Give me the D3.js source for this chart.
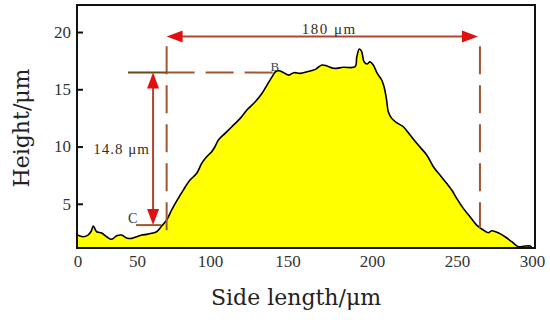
<!DOCTYPE html>
<html>
<head>
<meta charset="utf-8">
<script src="https://cdn.jsdelivr.net/npm/d3@7"></script>
<style>
  html, body { margin: 0; padding: 0; background: #fff; }
  svg { display: block; }
</style>
</head>
<body>
<div id="chart"></div>
<script>
// surface profile
const sideLength = [0, 4.6, 8.8, 11.5, 13.3, 16.1, 20.3, 24.5, 28.7, 32.9, 37.1, 41.3, 45.5, 49.7,
  53.2, 56.6, 60.0, 63.4, 66.9, 70.3, 73.7, 77.2, 81.7, 86.3, 90.9, 94.3, 97.7, 101.1, 103.2,
  105.4, 109.7, 114.1, 119.5, 123.8, 129.2, 133.6, 136.8, 140.1, 142.2, 144.4, 147.6, 150.8,
  153.7, 157.6, 161.6, 166.5, 170.4, 173.4, 177.2, 183.1, 190.0, 191.0, 192.5, 193.9, 195.3,
  197.2, 198.8, 200.8, 203.1, 205.7, 207.1, 208.6, 209.6, 211.6, 214.5, 218.4, 222.4, 227.2,
  232.2, 236.1, 240.0, 243.9, 246.9, 249.8, 254.2, 258.7, 263.1, 267.5, 270.9, 273.1, 277.5,
  282.0, 286.5, 290.9, 295.3, 298.7, 300];
const height = [2.27, 2.12, 2.27, 2.6, 3.06, 2.56, 2.45, 2.12, 1.90, 2.20, 2.27, 2.02, 1.98, 2.12,
  2.27, 2.33, 2.42, 2.56, 3.06, 3.58, 4.45, 5.25, 6.2, 7.07, 7.66, 8.53, 9.11, 9.55, 9.98,
  10.57, 11.15, 11.73, 12.46, 13.19, 13.91, 14.65, 15.37, 16.1, 16.53, 16.62, 16.45, 16.24,
  16.45, 16.39, 16.53, 16.74, 17.12, 17.03, 16.83, 16.92, 16.97, 17.84, 18.52, 18.28, 17.41,
  17.21, 17.41, 17.1, 16.39, 15.81, 15.22, 14.06, 13.04, 12.46, 12.08, 11.73, 11.0, 10.13,
  9.26, 8.24, 7.51, 6.79, 6.2, 5.48, 4.6, 3.87, 3.14, 2.71, 2.47, 2.65, 2.47,
  2.12, 1.69, 1.25, 1.31, 1.31, 1.14];

const xTicks = [0, 50, 100, 150, 200, 250, 300];
const yTicks = [5, 10, 15, 20];

// annotation values (data units)
const widthStart = 70.3, widthEnd = 265.3, widthLevel = 19.6;   // 180 μm
const pointB = [142.2, 16.46];
const pointC = [61, 3.14];

const W = 550, H = 320;
const frame = { left: 77, right: 535, top: 5, bottom: 248 };

const svg = d3.select("#chart").append("svg")
  .attr("width", W).attr("height", H);

// the x labels in the figure are not evenly spaced, so the scale follows them
const x = d3.scaleLinear()
  .domain(xTicks)
  .range([77.5, 137, 210, 287.5, 372, 457, 532]);
const y = d3.scaleLinear()
  .domain([1.14, 22.36])
  .range([frame.bottom, frame.top]);

const pts = sideLength.map((d, i) => [d, height[i]]);
const curve = d3.curveCatmullRom.alpha(0.5);

// filled profile
svg.append("path")
  .datum(pts)
  .attr("fill", "#ffff00")
  .attr("d", d3.area().curve(curve).x(d => x(d[0])).y0(frame.bottom).y1(d => y(d[1])));
svg.append("path")
  .datum(pts)
  .attr("fill", "none")
  .attr("stroke", "#000")
  .attr("stroke-width", 1.6)
  .attr("d", d3.line().curve(curve).x(d => x(d[0])).y(d => y(d[1])));

// frame
svg.append("rect")
  .attr("x", frame.left).attr("y", frame.top)
  .attr("width", frame.right - frame.left).attr("height", frame.bottom - frame.top)
  .attr("fill", "none").attr("stroke", "#111").attr("stroke-width", 2);

// y axis ticks (inward) + labels
const yAxis = svg.append("g")
  .attr("transform", `translate(${frame.left},0)`)
  .call(d3.axisLeft(y).tickValues(yTicks).tickSize(-6).tickPadding(6));
yAxis.select(".domain").remove();
yAxis.selectAll("line").attr("stroke", "#111").attr("stroke-width", 2);
yAxis.selectAll("text")
  .attr("font-family", "'Liberation Serif', serif")
  .attr("font-size", 17).attr("fill", "#333");

// x axis labels only
const xAxis = svg.append("g")
  .attr("transform", `translate(0,${frame.bottom})`)
  .call(d3.axisBottom(x).tickValues(xTicks).tickSize(0).tickPadding(7));
xAxis.select(".domain").remove();
xAxis.selectAll("text")
  .attr("font-family", "'Liberation Serif', serif")
  .attr("font-size", 17).attr("fill", "#333");

// axis titles
svg.append("text")
  .attr("x", 296).attr("y", 305)
  .attr("text-anchor", "middle")
  .attr("font-family", "'DejaVu Serif', serif")
  .attr("font-size", 22).attr("fill", "#222")
  .text("Side length/μm");
svg.append("text")
  .attr("transform", "translate(29,128) rotate(-90)")
  .attr("text-anchor", "middle")
  .attr("font-family", "'DejaVu Serif', serif")
  .attr("font-size", 22).attr("fill", "#222")
  .text("Height/μm");

// ---- annotations ----
const brown = "#a0562e", shaft = "#b04632", red = "#e01010";
const ann = svg.append("g");

function arrowHead(tx, ty, dx, dy) {
  // tip at (tx,ty), pointing along (dx,dy)
  const L = 16, w = 6;
  const bx = tx - dx * L, by = ty - dy * L;
  ann.append("path")
    .attr("d", `M${tx},${ty}L${bx - dy * w},${by + dx * w}L${bx + dy * w},${by - dx * w}Z`)
    .attr("fill", red);
}

// vertical dashed guides
[[widthStart, 2.27], [widthEnd, 2.88]].forEach(([xv, yb]) => {
  ann.append("line")
    .attr("x1", x(xv)).attr("x2", x(xv))
    .attr("y1", y(18.75)).attr("y2", y(yb))
    .attr("stroke", brown).attr("stroke-width", 2)
    .attr("stroke-dasharray", "28,11");
});

// horizontal level at B
ann.append("line")
  .attr("x1", x(42.4)).attr("x2", x(widthStart))
  .attr("y1", y(pointB[1])).attr("y2", y(pointB[1]))
  .attr("stroke", "#6b4a1e").attr("stroke-width", 2);
ann.append("line")
  .attr("x1", x(widthStart)).attr("x2", x(pointB[0]))
  .attr("y1", y(pointB[1])).attr("y2", y(pointB[1]))
  .attr("stroke", brown).attr("stroke-width", 2)
  .attr("stroke-dasharray", "28,11");

// level at C
ann.append("line")
  .attr("x1", x(49.2)).attr("x2", x(66.6))
  .attr("y1", y(pointC[1])).attr("y2", y(pointC[1]))
  .attr("stroke", brown).attr("stroke-width", 2);

// 180 μm arrow
ann.append("line")
  .attr("x1", x(widthStart) + 10).attr("x2", x(widthEnd) - 10)
  .attr("y1", y(widthLevel)).attr("y2", y(widthLevel))
  .attr("stroke", shaft).attr("stroke-width", 2);
arrowHead(x(widthStart), y(widthLevel), -1, 0);
arrowHead(x(widthEnd) - 2, y(widthLevel), 1, 0);

// 14.8 μm arrow
ann.append("line")
  .attr("x1", x(pointC[0])).attr("x2", x(pointC[0]))
  .attr("y1", y(pointB[1]) + 10).attr("y2", y(pointC[1]) - 10)
  .attr("stroke", shaft).attr("stroke-width", 2);
arrowHead(x(pointC[0]), y(pointB[1]), 0, -1);
arrowHead(x(pointC[0]), y(pointC[1]), 0, 1);

// labels
const annFont = "'Liberation Serif', serif";
ann.append("text")
  .attr("x", (x(widthStart) + x(widthEnd)) / 2 + 6).attr("y", y(widthLevel) - 3)
  .attr("text-anchor", "middle")
  .attr("font-family", annFont).attr("font-size", 15).attr("fill", "#3a2a22")
  .attr("letter-spacing", 1.5)
  .text("180 μm");
ann.append("text")
  .attr("x", x(pointC[0]) - 3).attr("y", y(10.0) + 7)
  .attr("text-anchor", "end")
  .attr("font-family", annFont).attr("font-size", 15).attr("fill", "#3a2a22")
  .attr("letter-spacing", 1)
  .text("14.8 μm");
ann.append("text")
  .attr("x", x(pointB[0]) - 5).attr("y", y(pointB[1]) - 2)
  .attr("font-family", annFont).attr("font-size", 13).attr("fill", "#2e4a4a")
  .text("B");
ann.append("text")
  .attr("x", x(49.2) - 8).attr("y", y(pointC[1]) - 2)
  .attr("font-family", annFont).attr("font-size", 14).attr("fill", "#333")
  .text("C");
</script>
</body>
</html>
